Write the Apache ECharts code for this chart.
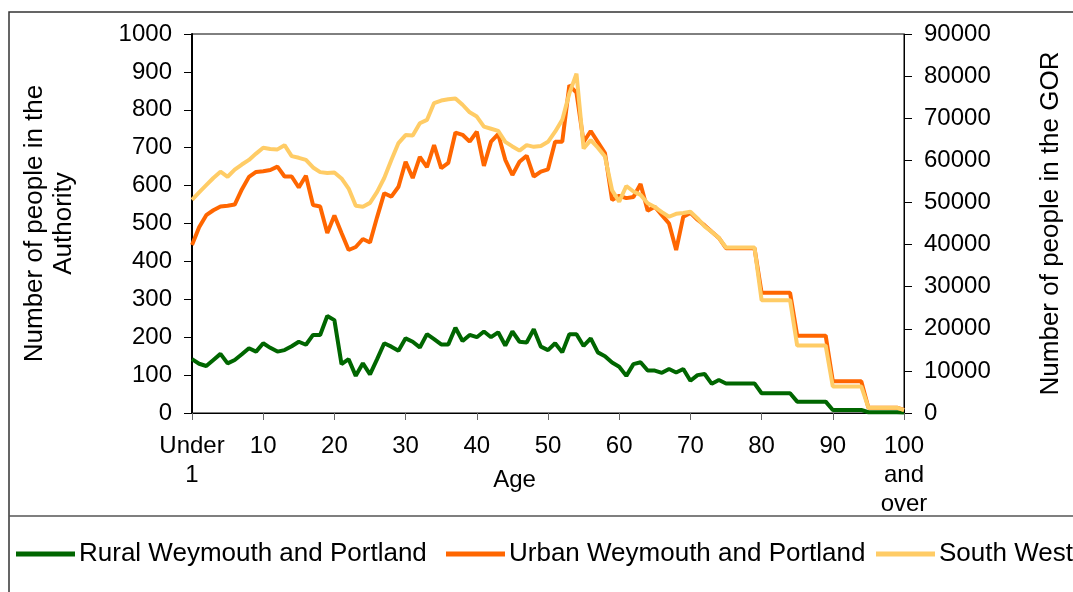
<!DOCTYPE html>
<html>
<head>
    <meta http-equiv="Content-Type" content="text/html; charset=utf-8" />
    <script type="text/javascript" src="https://cdn.jsdelivr.net/npm/echarts@6/dist/echarts.min.js"></script>
    <style>
        html, body { margin: 0; padding: 0; background: #fff; }
    </style>
</head>
<body>
    <div id="chartDom" style="position: absolute; width: 1073px; height: 592px;"></div>

    <script type="text/javascript">
        // ages 0..100 (first is "Under 1", last "100 and over")
        var ages = ['Under 1'];
        for (var a = 1; a < 100; a++) ages.push(String(a));
        ages.push('100 and over');

        // Rural Weymouth and Portland (left axis)
        var rural = [
            142, 130, 124, 140, 156, 131, 140, 155, 171, 162,
            184, 172, 162, 166, 176, 188, 180, 206, 206, 256,
            245, 129, 142, 98, 131, 102, 142, 184, 175, 164,
            197, 188, 173, 208, 195, 181, 181, 225, 190, 206,
            200, 215, 200, 213, 178, 215, 188, 186, 221, 175,
            166, 184, 160, 208, 208, 177, 197, 160, 150, 133,
            122, 98, 129, 134, 112, 112, 106, 116, 107, 116,
            85, 100, 103, 77, 87, 78, 78, 78, 78, 78,
            52, 52, 52, 52, 52, 30, 30, 30, 30, 30,
            8, 8, 8, 8, 8, 2, 2, 2, 2, 2,
            1
        ];

        // Urban Weymouth and Portland (left axis)
        var urban = [
            443, 490, 522, 535, 545, 547, 550, 590, 623, 636,
            638, 641, 650, 624, 624, 595, 626, 549, 545, 475,
            521, 475, 430, 438, 459, 450, 517, 580, 571, 597,
            663, 620, 676, 649, 707, 646, 660, 740, 734, 716,
            742, 652, 716, 736, 668, 628, 663, 679, 624, 637,
            643, 716, 716, 865, 845, 715, 744, 715, 686, 562,
            573, 567, 570, 604, 534, 544, 522, 500, 430, 518,
            528, 510, 495, 478, 462, 435, 435, 435, 435, 435,
            317, 317, 317, 317, 317, 204, 204, 204, 204, 204,
            84, 84, 84, 84, 84, 14, 14, 14, 14, 14,
            8
        ];

        // South West (right axis)
        var southWest = [
            50600, 52400, 54100, 55800, 57300, 56100, 57800, 59000, 60100, 61600,
            63000, 62700, 62600, 63600, 61000, 60600, 60100, 58300, 57200, 57000,
            57100, 55700, 53300, 49200, 49000, 49900, 52500, 55800, 60100, 64100,
            66000, 65900, 68800, 69600, 73600, 74200, 74500, 74700, 73200, 71400,
            70400, 68000, 67500, 67000, 64400, 63300, 62300, 63600, 63200, 63400,
            64400, 66800, 69600, 75900, 80600, 62800, 64800, 63000, 60900, 52900,
            50200, 53900, 52600, 51800, 49800, 48900, 47700, 46600, 47300, 47500,
            47800, 46200, 44300, 43000, 41600, 39300, 39300, 39300, 39300, 39300,
            26800, 26800, 26800, 26800, 26800, 16000, 16000, 16000, 16000, 16000,
            6300, 6300, 6300, 6300, 6300, 1260, 1260, 1260, 1260, 1260,
            700
        ];

        var seriesNames = ['Rural Weymouth and Portland', 'Urban Weymouth and Portland', 'South West'];

        var FONT = '"Liberation Sans", Arial, sans-serif';

        var myChart = echarts.init(document.getElementById("chartDom"));

        function plain(v) { return String(v); }   // no thousands separator

        // one legend per item so the last one can run off the right edge like the original
        function legendItem(name, left) {
            return {
                left: left, top: 541, padding: 0,
                itemWidth: 59, itemHeight: 5,
                icon: 'rect',
                textStyle: { fontSize: 26, fontFamily: FONT, color: '#000', padding: [0, 0, 0, -1] },
                data: [name]
            };
        }

        var option = {
            backgroundColor: '#fff',
            animation: false,
            textStyle: { fontFamily: FONT, color: '#000' },
            grid: {
                left: 192, right: 168, top: 34, bottom: 179,
                show: true, borderColor: '#000', borderWidth: 1
            },
            legend: [
                legendItem(seriesNames[0], 16),
                legendItem(seriesNames[1], 446),
                legendItem(seriesNames[2], 876)
            ],
            xAxis: {
                type: 'category',
                data: ages,
                boundaryGap: false,
                name: 'Age',
                nameLocation: 'middle',
                nameGap: 55,
                nameMoveOverlap: false,
                nameTextStyle: { fontSize: 24, fontFamily: FONT, color: '#000', padding: [0, 67, 0, 0] },
                axisLine: { lineStyle: { color: '#000', width: 1 } },
                axisTick: {
                    interval: function (i) { return i % 10 === 0; },
                    length: 7, lineStyle: { color: '#666' }
                },
                axisLabel: {
                    interval: function (i) { return i % 10 === 0; },
                    formatter: function (v) { return v.split(' ').join('\n'); },
                    fontSize: 24, lineHeight: 29, margin: 19, color: '#000', fontFamily: FONT
                },
                splitLine: { show: false }
            },
            yAxis: [
                {
                    type: 'value', min: 0, max: 1000, interval: 100,
                    name: 'Number of people in the\nAuthority',
                    nameLocation: 'middle', nameRotate: 90, nameGap: 114,
                    nameMoveOverlap: false,
                    nameTextStyle: { fontSize: 26, lineHeight: 29, fontFamily: FONT, color: '#000' },
                    axisLine: { show: true, lineStyle: { color: '#000', width: 2 } },
                    axisTick: { show: true, length: 8, lineStyle: { color: '#000' } },
                    axisLabel: { fontSize: 24, margin: 20, color: '#000', fontFamily: FONT, formatter: plain },
                    splitLine: { show: false }
                },
                {
                    type: 'value', min: 0, max: 90000, interval: 10000,
                    position: 'right',
                    name: 'Number of people in the GOR',
                    nameLocation: 'middle', nameRotate: 90, nameGap: 132,
                    nameMoveOverlap: false,
                    nameTextStyle: { fontSize: 26, lineHeight: 29, fontFamily: FONT, color: '#000' },
                    axisLine: { show: true, lineStyle: { color: '#000', width: 1 } },
                    axisTick: { show: true, length: 8, lineStyle: { color: '#000' } },
                    axisLabel: { fontSize: 24, margin: 20, color: '#000', fontFamily: FONT, formatter: plain },
                    splitLine: { show: false }
                }
            ],
            series: [
                {
                    name: seriesNames[0], type: 'line', yAxisIndex: 0,
                    data: rural, showSymbol: false, symbol: 'none',
                    itemStyle: { color: '#006600' },
                    lineStyle: { color: '#006600', width: 4 }
                },
                {
                    name: seriesNames[1], type: 'line', yAxisIndex: 0,
                    data: urban, showSymbol: false, symbol: 'none',
                    itemStyle: { color: '#ff6600' },
                    lineStyle: { color: '#ff6600', width: 4 }
                },
                {
                    name: seriesNames[2], type: 'line', yAxisIndex: 1,
                    data: southWest, showSymbol: false, symbol: 'none',
                    itemStyle: { color: '#ffcc66' },
                    lineStyle: { color: '#ffcc66', width: 4 }
                }
            ],
            graphic: [
                {
                    type: 'rect', silent: true, z: -1,
                    shape: { x: 9, y: 12, width: 1100, height: 640 },
                    style: { fill: 'none', stroke: '#333', lineWidth: 1.5 }
                },
                {
                    type: 'line', silent: true, z: -1,
                    shape: { x1: 9, y1: 516, x2: 1073, y2: 516 },
                    style: { stroke: '#555', lineWidth: 1.5 }
                }
            ]
        };

        myChart.setOption(option);
        window.onresize = myChart.resize;
    </script>
</body>
</html>
